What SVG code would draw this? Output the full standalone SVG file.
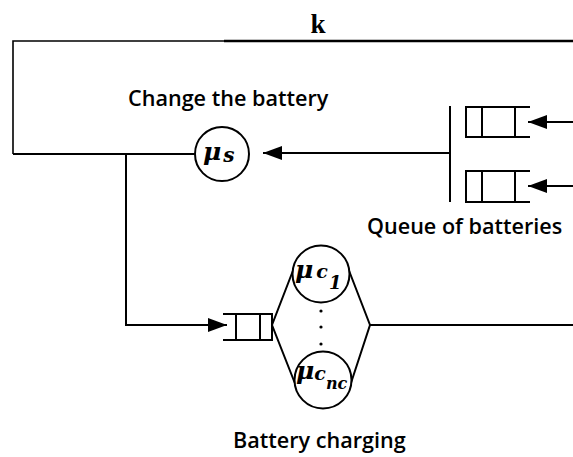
<svg xmlns="http://www.w3.org/2000/svg" width="573" height="457" viewBox="0 0 573 457">
<style>
  .ln{fill:none;stroke:#000;stroke-width:2}
  .thin{fill:none;stroke:#000;stroke-width:1.6}
  .thick{fill:none;stroke:#000;stroke-width:2.6}
  .node{fill:#fff;stroke:#000;stroke-width:2}
  .lbl{font-family:"Open Sans","Noto Sans",sans-serif;font-size:21.6px;font-weight:600;fill:#000}
  .math{font-family:"DejaVu Serif","Liberation Serif",serif;font-style:italic;font-weight:bold;fill:#000}
  .k{font-family:"Liberation Serif","DejaVu Serif",serif;font-weight:bold;font-size:27px;fill:#000}
</style>
<defs>
  <marker id="ah" markerWidth="20" markerHeight="14" refX="19" refY="7" orient="auto" markerUnits="userSpaceOnUse">
    <path d="M0,0 L19,7 L0,14 Z" fill="#000"/>
  </marker>
</defs>
<text class="k" x="318" y="33" text-anchor="middle">k</text>
<g id="connectors">
  <path class="thin" d="M13,154 V41 H225"/>
  <path class="thick" d="M224,41 H573"/>
  <path class="ln" d="M13,154 H195"/>
  <path class="ln" d="M126,153 V325 H227" marker-end="url(#ah)"/>
  <path class="ln" d="M450,153 H263" marker-end="url(#ah)"/>
  <path class="ln" d="M573,122 H528" marker-end="url(#ah)"/>
  <path class="ln" d="M573,186 H528" marker-end="url(#ah)"/>
  <path class="ln" d="M370,325 H573"/>
</g>
<g id="change-battery">
  <text class="lbl" x="128" y="106">Change the battery</text>
  <circle class="node" cx="222" cy="154" r="27"/>
  <text class="math" x="203" y="160" font-size="25">μ<tspan font-size="20" dx="2" dy="2">s</tspan></text>
</g>
<g id="queue-batteries">
  <path class="ln" d="M450,106 V202"/>
  <path class="ln" d="M530,107 H466 V137 H530 M482,107 V137 M515,107 V137"/>
  <path class="ln" d="M530,171 H466 V202 H530 M482,171 V202 M515,171 V202"/>
  <text class="lbl" x="367" y="234">Queue of batteries</text>
</g>
<g id="battery-charging">
  <path class="ln" d="M223,314 H272 V340 H223 M236,314 V340 M260,314 V340"/>
  <path class="ln" d="M294,268 L272,325 L296,386 M348,268 L370,325 L350,386"/>
  <circle class="node" cx="321" cy="274" r="28.5"/>
  <circle class="node" cx="323" cy="380" r="28.5"/>
  <circle cx="321" cy="311" r="1.6" fill="#000"/>
  <circle cx="321" cy="327" r="1.6" fill="#000"/>
  <circle cx="321" cy="344" r="1.6" fill="#000"/>
  <text class="math" x="295" y="278" font-size="25">μ<tspan font-size="19" dx="3">c</tspan><tspan font-size="18" dx="1" dy="11">1</tspan></text>
  <text class="math" x="296" y="379" font-size="25">μ<tspan font-size="19" dy="1">c</tspan><tspan font-size="16" dy="9">nc</tspan></text>
  <text class="lbl" x="233" y="448">Battery charging</text>
</g>
</svg>
